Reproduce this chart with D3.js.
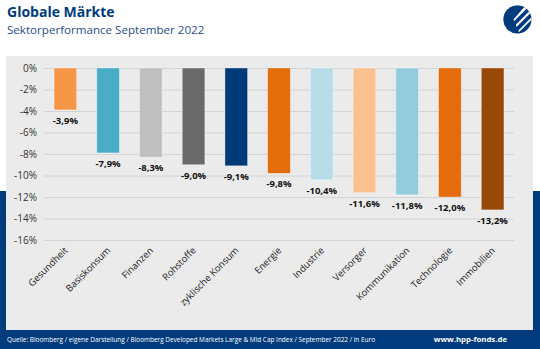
<!DOCTYPE html>
<html>
<head>
<meta charset="utf-8">
<script src="https://cdn.jsdelivr.net/npm/d3@7"></script>
<style>
  body { margin: 0; background: #fff; }
  svg { display: block; font-family: "Open Sans", sans-serif; }
  .grid line { stroke: #d4d4d4; stroke-width: 1; }
  .grid .domain { display: none; }
  .axis-text { fill: #333; font-size: 10px; }
</style>
</head>
<body>
<svg id="chart" width="540" height="349"></svg>
<script>
// data
const sectors = ['Gesundheit', 'Basiskonsum', 'Finanzen', 'Rohstoffe', 'zyklische Konsum',
  'Energie', 'Industrie', 'Versorger', 'Kommunikation', 'Technologie', 'Immobilien']
const performance = [-3.9, -7.9, -8.3, -9.0, -9.1, -9.8, -10.4, -11.6, -11.8, -12.0, -13.2]
const barColors = ['#F79646', '#4BACC6', '#BFBFBF', '#6A6A6A', '#003A78',
  '#E46C0A', '#B7DEE8', '#FAC090', '#93CDDD', '#E46C0A', '#984807']
const yTicks = [0, -2, -4, -6, -8, -10, -12, -14, -16]

const data = sectors.map((s, i) => ({ key: s, value: performance[i], color: barColors[i] }))

const svg = d3.select('#chart')
const navy = '#003B7D'

////////////////////////// FRAME //////////////////////////

// blue band behind lower half
svg.append('rect').attr('x', 0).attr('y', 191).attr('width', 540).attr('height', 158).attr('fill', navy)
// gray panel
svg.append('rect').attr('x', 6).attr('y', 56).attr('width', 527).attr('height', 274).attr('fill', '#EBEBEB')

// title
svg.append('text').attr('x', 7).attr('y', 17)
  .style('font-size', '14px').style('font-weight', 700).attr('fill', navy)
  .text('Globale Märkte')
svg.append('text').attr('x', 7).attr('y', 34)
  .style('font-size', '11.6px').attr('fill', '#1F4E8C')
  .text('Sektorperformance September 2022')

// logo
const logo = svg.append('g').attr('transform', 'translate(517.5,19.5)')
logo.append('clipPath').attr('id', 'logo-clip')
  .append('circle').attr('r', 14)
logo.append('circle').attr('r', 14).attr('fill', navy)
const stripes = logo.append('g').attr('clip-path', 'url(#logo-clip)')
;[[-2, 3.2], [2.5, 2.2], [6.5, 1.6]].forEach(([off, w]) => {
  stripes.append('line')
    .attr('x1', -20 + off).attr('y1', 20 + off)
    .attr('x2', 20 + off).attr('y2', -20 + off)
    .attr('stroke', '#fff').attr('stroke-width', w)
})
// cover lower-left of stripes to make them start inside
logo.append('path').attr('clip-path', 'url(#logo-clip)')
  .attr('d', 'M-14,-14 L-14,14 L2,14 L-4,0 L8,-14 Z').attr('fill', navy)

// footer
svg.append('text').attr('x', 7).attr('y', 342)
  .style('font-size', '6.6px').attr('fill', '#fff')
  .attr('textLength', 368).attr('lengthAdjust', 'spacingAndGlyphs')
  .text('Quelle: Bloomberg / eigene Darstellung / Bloomberg Developed Markets Large & Mid Cap Index / September 2022 / in Euro')
svg.append('text').attr('x', 507).attr('y', 342).attr('text-anchor', 'end')
  .style('font-size', '7.8px').style('font-weight', 700).attr('fill', '#fff')
  .text('www.hpp-fonds.de')

////////////////////////// SCALES //////////////////////////

const xScale = d3.scaleBand().domain(sectors).range([44, 514]).paddingInner(0.47).paddingOuter(0.235)
const yScale = d3.scaleLinear().domain([0, -16]).range([68, 240])

// grid
svg.append('g').attr('class', 'grid')
  .attr('transform', 'translate(44,0)')
  .call(d3.axisLeft(yScale).tickValues(yTicks).tickSize(-470).tickFormat(''))

// y axis labels
svg.append('g').selectAll('text')
  .data(yTicks)
  .enter()
  .append('text')
  .attr('class', 'axis-text')
  .attr('x', 37)
  .attr('y', (d) => yScale(d) + 3.5)
  .attr('text-anchor', 'end')
  .text((d) => `${d}%`)

////////////////////////// BARS //////////////////////////

svg.append('g').selectAll('rect')
  .data(data)
  .enter()
  .append('rect')
  .attr('x', (d) => xScale(d.key))
  .attr('y', yScale(0))
  .attr('width', xScale.bandwidth())
  .attr('height', (d) => yScale(d.value) - yScale(0))
  .attr('fill', (d) => d.color)
  .attr('stroke', 'rgba(255,255,255,0.45)')
  .attr('stroke-width', 0.8)

// value labels
svg.append('g').selectAll('text')
  .data(data)
  .enter()
  .append('text')
  .attr('x', (d) => xScale(d.key) + xScale.bandwidth() / 2)
  .attr('y', (d) => yScale(d.value) + 14)
  .attr('text-anchor', 'middle')
  .style('font-size', '9.5px').style('font-weight', 700).attr('fill', '#111')
  .text((d) => `${d.value.toFixed(1).replace('.', ',')}%`)

// category labels, rotated
svg.append('g').selectAll('text')
  .data(data)
  .enter()
  .append('text')
  .attr('transform', (d) => `translate(${xScale(d.key) + xScale.bandwidth() / 2 + 3},${251}) rotate(-45)`)
  .attr('text-anchor', 'end')
  .style('font-size', '9.5px').attr('fill', '#222')
  .text((d) => d.key)
</script>
</body>
</html>
